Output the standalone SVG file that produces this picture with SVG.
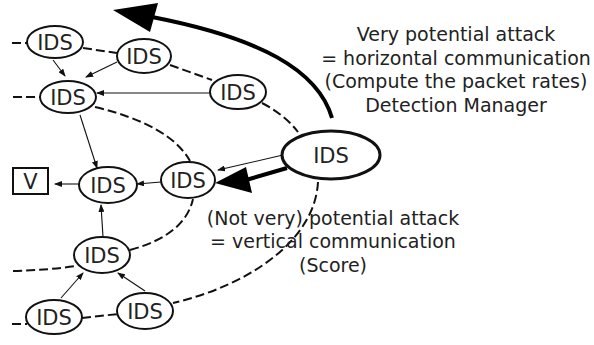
<svg xmlns="http://www.w3.org/2000/svg" width="594" height="345" viewBox="0 0 594 345">
<defs>
<marker id="ah" markerWidth="8" markerHeight="6" refX="7" refY="3" orient="auto" markerUnits="userSpaceOnUse">
<path d="M0,0 L8,3 L0,6 Z" fill="#111"/>
</marker>
<style>
.n ellipse{fill:#fff;stroke:#111;stroke-width:2}
.n text{font-family:"DejaVu Sans",sans-serif;font-size:21px;fill:#222;text-anchor:middle}
.d{fill:none;stroke:#111;stroke-width:2;stroke-dasharray:9 4}
.a{fill:none;stroke:#111;stroke-width:1.1;marker-end:url(#ah)}
.t{font-family:"DejaVu Sans",sans-serif;font-size:19px;fill:#222;text-anchor:middle}
</style>
</defs>
<rect width="594" height="345" fill="#fff"/>
<g id="connectors">
<path class="d" d="M12,43 L27,43"/>
<path class="d" d="M83,48 L117,53"/>
<path class="d" d="M170,65 L212,80"/>
<path class="d" d="M262,103 Q285,115 298,132"/>
<path class="d" d="M13,97 L40,97"/>
<path class="d" d="M95,107 Q170,125 190,161"/>
<path class="d" d="M130,250 Q185,235 193,199"/>
<path class="d" d="M13,271 Q50,270 76,266"/>
<path class="d" d="M318,182 C315,240 250,285 173,303"/>
<path class="d" d="M82,318 L118,314"/>
<path class="d" d="M12,324 L27,324"/>
<path class="a" d="M53,60 L65,76"/>
<path class="a" d="M117,62 L86,77"/>
<path class="a" d="M210,93 L97,93"/>
<path class="a" d="M80,115 L97,168"/>
<path class="a" d="M161,182 L137,184"/>
<path class="a" d="M79,184 L55,184"/>
<path class="a" d="M103,237 L101,205"/>
<path class="a" d="M61,298 L83,273"/>
<path class="a" d="M145,291 L118,273"/>
<path class="a" d="M283,155 L218,170"/>
<path d="M332,118 C318,70 260,38 152,17" fill="none" stroke="#000" stroke-width="4"/>
<polygon points="113,10 158,3 150,32" fill="#000"/>
<path d="M287,168 L246,180" fill="none" stroke="#000" stroke-width="4"/>
<polygon points="215,183 246,167 252,193" fill="#000"/>
</g>
<g id="n1" class="n"><ellipse cx="55" cy="42" rx="28" ry="16"/><text x="55" y="49.5">IDS</text></g>
<g id="n2" class="n"><ellipse cx="144" cy="56" rx="27" ry="17"/><text x="144" y="63.5">IDS</text></g>
<g id="n3" class="n"><ellipse cx="68" cy="97" rx="28" ry="16"/><text x="68" y="104.5">IDS</text></g>
<g id="n4" class="n"><ellipse cx="238" cy="92" rx="28" ry="17"/><text x="238" y="99.5">IDS</text></g>
<g id="n5" class="n"><ellipse cx="331" cy="155" rx="49" ry="24" style="stroke-width:3"/><text x="331" y="163">IDS</text></g>
<g id="n6" class="n"><ellipse cx="188" cy="180" rx="27" ry="18"/><text x="188" y="187.5">IDS</text></g>
<g id="n7" class="n"><ellipse cx="108" cy="185" rx="29" ry="18"/><text x="108" y="192.5">IDS</text></g>
<g id="v"><rect x="13" y="168" width="35" height="26" fill="#fff" stroke="#111" stroke-width="2"/><text x="30.5" y="189" style="font-family:'DejaVu Sans',sans-serif;font-size:21px;fill:#222;text-anchor:middle">V</text></g>
<g id="n9" class="n"><ellipse cx="102" cy="255" rx="28" ry="18"/><text x="102" y="262.5">IDS</text></g>
<g id="n10" class="n"><ellipse cx="54" cy="317" rx="28" ry="17"/><text x="54" y="324.5">IDS</text></g>
<g id="n11" class="n"><ellipse cx="145" cy="311" rx="28" ry="18"/><text x="145" y="318.5">IDS</text></g>
<g id="label-top">
<text class="t" x="456" y="41">Very potential attack</text>
<text class="t" x="456" y="65">= horizontal communication</text>
<text class="t" x="456" y="88">(Compute the packet rates)</text>
<text class="t" x="456" y="112">Detection Manager</text>
</g>
<g id="label-bottom">
<text class="t" x="333" y="225">(Not very) potential attack</text>
<text class="t" x="333" y="248">= vertical communication</text>
<text class="t" x="333" y="272">(Score)</text>
</g>
</svg>
